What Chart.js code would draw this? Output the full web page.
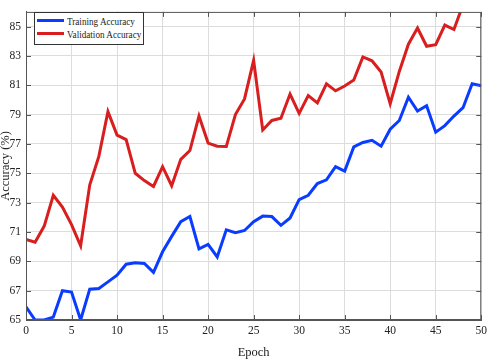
<!DOCTYPE html>
<html lang="en">
<head>
  <meta charset="UTF-8">
  <title>Training and Validation Accuracy</title>
  <script src="https://cdn.jsdelivr.net/npm/chart.js"></script>
  <style>
    body { margin: 0; background: #fff; }
    #wrap { position: relative; width: 491px; height: 360px; }
    /* legend box drawn over the plot, top-left */
    #legend {
      position: absolute; left: 34px; top: 12px; width: 108px; height: 30px;
      border: 1px solid #333; background: #fff;
      font-family: "Liberation Serif", serif; font-size: 11px; color: #222;
      padding-top: 1px; white-space: nowrap; overflow: hidden;
    }
    #legend .row { display: flex; align-items: center; height: 13px; margin-left: 2px; }
    #legend .sw { flex: none; width: 27px; height: 3px; margin-right: 3px; }
    #legend .txt { display: inline-block; transform: scaleX(0.83); transform-origin: left center; }
  </style>
</head>
<body>
  <div id="wrap">
    <canvas id="chart" width="491" height="360"></canvas>
    <div id="legend"></div>
  </div>

  <script>
    // epochs and tick values
    const epochs = Array.from({ length: 51 }, (_, i) => i);
    const xTicks = [0, 5, 10, 15, 20, 25, 30, 35, 40, 45, 50];
    const yTicks = [65, 67, 69, 71, 73, 75, 77, 79, 81, 83, 85];

    // values
    const trainAcc = [65.9, 65.0, 65.0, 65.2, 67.0, 66.9, 65.0, 67.1, 67.15, 67.6,
      68.05, 68.8, 68.9, 68.85, 68.25, 69.65, 70.7, 71.7, 72.05, 69.85,
      70.15, 69.3, 71.15, 70.95, 71.1, 71.7, 72.08, 72.05, 71.45, 71.95,
      73.2, 73.5, 74.3, 74.55, 75.45, 75.15, 76.8, 77.1, 77.25, 76.85,
      78.0, 78.6, 80.18, 79.24, 79.6, 77.8, 78.25, 78.9, 79.47, 81.1, 80.97];
    const valAcc = [70.5, 70.3, 71.4, 73.5, 72.7, 71.5, 70.06, 74.2, 76.15, 79.2,
      77.6, 77.3, 75.0, 74.5, 74.1, 75.45, 74.15, 75.95, 76.55, 78.9,
      77.06, 76.85, 76.83, 79.0, 80.07, 82.7, 77.95, 78.6, 78.75, 80.4,
      79.08, 80.29, 79.8, 81.1, 80.62, 80.95, 81.35, 82.93, 82.67, 81.9,
      79.74, 81.94, 83.8, 84.9, 83.66, 83.77, 85.1, 84.8, 86.5, 87.0, 87.3];

    const seriesNames = ['Training Accuracy', 'Validation Accuracy'];
    const seriesColors = ['#0a3cff', '#d81e1e'];

    // html legend
    const legend = document.getElementById('legend');
    seriesNames.forEach((n, i) => {
      legend.innerHTML += '<div class="row"><span class="sw" style="background:' + seriesColors[i] +
        '"></span><span class="txt">' + n + '</span></div>';
    });

    // frame around the plot with inward tick marks (matlab look)
    const framePlugin = {
      id: 'frame',
      afterDraw(chart) {
        const { ctx, chartArea: a, scales } = chart;
        ctx.save();
        ctx.strokeStyle = '#555';
        ctx.lineWidth = 1;
        ctx.strokeRect(a.left + 0.5, a.top + 0.5, a.right - a.left - 1, a.bottom - a.top - 1);
        ctx.beginPath();
        yTicks.forEach(v => {
          const y = Math.round(scales.y.getPixelForValue(v)) + 0.5;
          ctx.moveTo(a.left, y); ctx.lineTo(a.left + 5, y);
          ctx.moveTo(a.right, y); ctx.lineTo(a.right - 5, y);
        });
        xTicks.forEach(v => {
          const x = Math.round(scales.x.getPixelForValue(v)) + 0.5;
          ctx.moveTo(x, a.bottom); ctx.lineTo(x, a.bottom - 5);
          ctx.moveTo(x, a.top); ctx.lineTo(x, a.top + 5);
        });
        ctx.stroke();
        ctx.restore();
      }
    };

    const serif = 'Liberation Serif';

    new Chart(document.getElementById('chart'), {
      type: 'line',
      data: {
        datasets: [
          {
            label: seriesNames[0],
            data: epochs.map((e, i) => ({ x: e, y: trainAcc[i] })),
            borderColor: seriesColors[0],
            backgroundColor: seriesColors[0],
            borderWidth: 3,
            pointRadius: 0,
            tension: 0
          },
          {
            label: seriesNames[1],
            data: epochs.map((e, i) => ({ x: e, y: valAcc[i] })),
            borderColor: seriesColors[1],
            backgroundColor: seriesColors[1],
            borderWidth: 3,
            pointRadius: 0,
            tension: 0
          }
        ]
      },
      options: {
        responsive: false,
        animation: false,
        layout: { padding: { top: 2, right: 4, left: 0, bottom: 0 } },
        plugins: { legend: { display: false }, tooltip: { enabled: false } },
        scales: {
          x: {
            type: 'linear',
            min: 0, max: 50,
            afterBuildTicks: s => { s.ticks = xTicks.map(v => ({ value: v })); },
            afterFit: s => { s.height = 40; },
            ticks: { font: { family: serif, size: 11.5 }, color: '#222', padding: 4, maxRotation: 0 },
            grid: { color: '#dcdcdc', drawTicks: false },
            border: { color: '#555' },
            title: { display: true, text: 'Epoch', font: { family: serif, size: 12.5 }, color: '#222', padding: { top: 0, bottom: 0 } }
          },
          y: {
            min: 65, max: 86,
            afterBuildTicks: s => { s.ticks = yTicks.map(v => ({ value: v })); },
            afterFit: s => { s.width = 26; },
            ticks: { font: { family: serif, size: 11.5 }, color: '#222', padding: 5 },
            grid: { color: '#dcdcdc', drawTicks: false },
            border: { color: '#555' },
            title: { display: true, text: 'Accuracy (%)', font: { family: serif, size: 12.5 }, color: '#222', padding: { top: -2, bottom: 0 } }
          }
        }
      },
      plugins: [framePlugin]
    });
  </script>
</body>
</html>
